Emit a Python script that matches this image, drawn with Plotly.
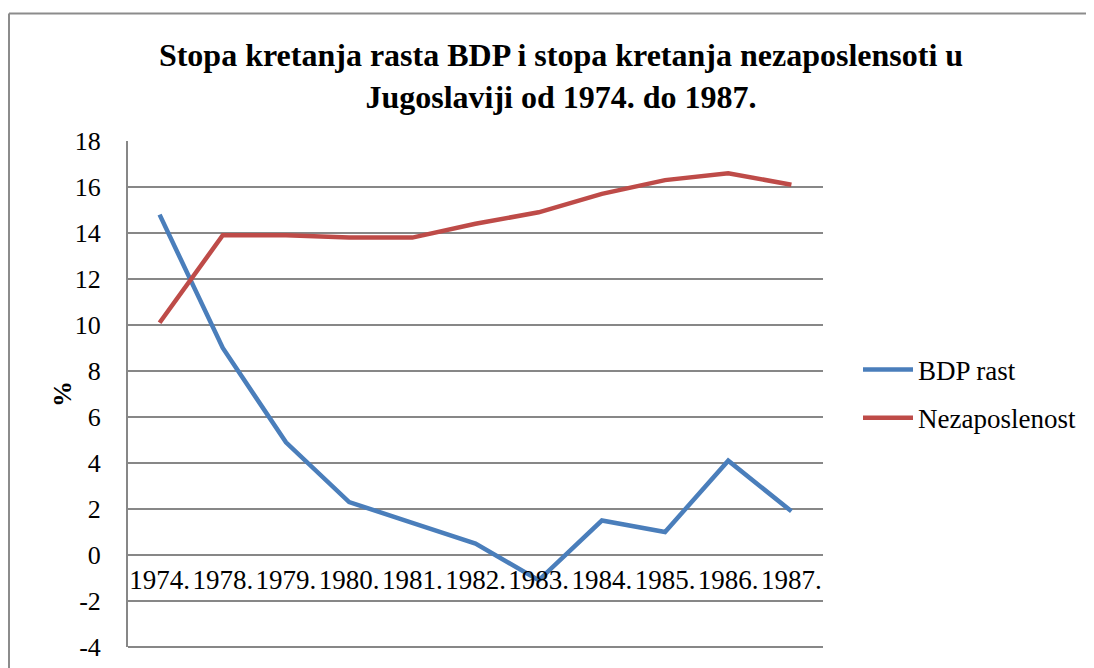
import plotly.graph_objects as go

years = ["1974.", "1978.", "1979.", "1980.", "1981.", "1982.", "1983.", "1984.", "1985.", "1986.", "1987."]
bdp_rast = [14.8, 9.0, 4.9, 2.3, 1.4, 0.5, -1.1, 1.5, 1.0, 4.1, 1.9]
nezaposlenost = [10.1, 13.9, 13.9, 13.8, 13.8, 14.4, 14.9, 15.7, 16.3, 16.6, 16.1]
y_ticks = [-4, -2, 0, 2, 4, 6, 8, 10, 12, 14, 16, 18]
y_labels = ["-4", "-2", "0", "2", "4", "6", "8", "10", "12", "14", "16", "18"]

font = "Liberation Serif"
grid = "#878787"

# page body has an 8px margin, so figure coords = screen coords - 8
W, H = 1086, 660
ml, mt = 120, 133          # plot left / top
pr, pb = 815, 639          # plot right / bottom
mr, mb = W - pr, H - pb
pw, ph = pr - ml, pb - mt
y_lo, y_hi = -4, 18

fig = go.Figure()
fig.add_trace(go.Scatter(x=years, y=bdp_rast, mode="lines", name="BDP rast",
                         line=dict(color="#4A7EBB", width=4.5), legendgroup="a"))
fig.add_trace(go.Scatter(x=years, y=nezaposlenost, mode="lines", name="Nezaposlenost",
                         line=dict(color="#BE4B48", width=4.5), legendgroup="b"))

# frame of the chart (only left and top edges are inside the picture)
x_left = (1 - ml) / pw
y_top = 1 + (mt - 5.5) / ph
fig.add_shape(type="line", xref="paper", yref="paper", x0=x_left, x1=x_left,
              y0=y_top, y1=-0.2, line=dict(color="#8c8c8c", width=2))
fig.add_shape(type="line", xref="paper", yref="paper", x0=x_left, x1=1.5,
              y0=y_top, y1=y_top, line=dict(color="#8c8c8c", width=2))
# bottom gridline, which plotly drops at the edge of the range
fig.add_shape(type="line", xref="paper", yref="paper", x0=0, x1=1, y0=0, y1=0,
              line=dict(color=grid, width=2), layer="above")

# y axis title
fig.add_annotation(text="<b>%</b>", xref="paper", yref="paper", x=(54 - ml) / pw, y=0.5,
                   xanchor="center", yanchor="middle", textangle=-90, showarrow=False,
                   font=dict(size=26, family=font))

fig.update_layout(
    width=W, height=H,
    margin=dict(l=ml, r=mr, t=mt, b=mb, autoexpand=False),
    paper_bgcolor="white", plot_bgcolor="white",
    font=dict(family=font, size=26, color="black"),
    title=dict(text="<b>Stopa kretanja rasta BDP i stopa kretanja nezaposlensoti u<br>Jugoslaviji od 1974. do 1987.</b>",
               x=553 / W, xanchor="center", y=1 - 58 / H, yanchor="top",
               font=dict(size=32, family=font)),
    legend=dict(x=(850 - ml) / pw, y=0.5, xanchor="left", yanchor="middle", itemwidth=50,
                font=dict(size=27, family=font), tracegroupgap=10, bgcolor="rgba(0,0,0,0)"),
    xaxis=dict(type="category", range=[-0.5, 10.5], showgrid=False, showline=False,
               ticks="", anchor="free", position=(0 - y_lo) / (y_hi - y_lo), tickangle=0,
               automargin=False, ticklabelstandoff=6, tickfont=dict(size=27, family=font)),
    yaxis=dict(range=[y_lo, y_hi], tickvals=y_ticks, ticktext=y_labels, showgrid=True,
               gridcolor=grid, gridwidth=2, zeroline=False, showline=True,
               linecolor=grid, linewidth=2, automargin=False,
               ticks="", ticklabelstandoff=20, tickfont=dict(size=26, family=font)),
)

fig.write_html("out.html")
